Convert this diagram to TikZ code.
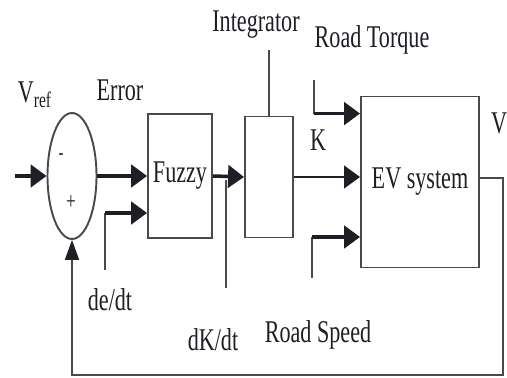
\documentclass[tikz,border=0pt]{standalone}
\usepackage{fontspec}
\setmainfont{Liberation Serif}[FakeStretch=0.7]
\usepackage{xcolor,tikz}
\usetikzlibrary{arrows.meta,positioning,shapes.geometric,calc}
\definecolor{ink}{HTML}{1E1E24}
\definecolor{edge}{HTML}{4A4A4A}

\begin{document}
\begin{tikzpicture}[
    x=0.02cm, y=-0.02cm,
    font=\fontsize{18}{20}\selectfont,
    text=ink,
    blk/.style={
        draw=edge,
        line width=1.1pt,
        align=center,
        inner sep=0pt
    },
    arr/.style={
        -{Triangle[length=0.32cm,width=0.45cm]},
        draw=ink,
        line width=2pt
    },
    sig/.style={
        draw=edge,
        line width=1.1pt
    },
    lbl/.style={
        inner sep=0pt
    }
]
\useasboundingbox (0,0) rectangle (507,378);

\node[blk,ellipse,minimum width=0.98cm,minimum height=2.52cm] (sum) at (72,176) {};
\node[blk,minimum width=1.28cm,minimum height=2.48cm] (fuzzy) at (180,176) {Fuzzy};
\node[blk,minimum width=0.96cm,minimum height=2.42cm] (integ) at (269,177) {};
\node[blk,minimum width=2.36cm,minimum height=3.42cm] (ev) at (420,182) {EV system};

\node[lbl] (vref) at (35,95) {V\textsubscript{ref}};
\node[lbl] (err) at (120,90) {Error};
\node[lbl,font=\fontsize{12}{12}\selectfont] (minus) at (61,157) {-};
\node[lbl,font=\fontsize{14}{14}\selectfont] (plus) at (71,203) {+};
\node[lbl] (dedtl) at (110,300) {de/dt};
\node[lbl] (dkdtl) at (213,340) {dK/dt};
\node[lbl] (intl) at (256,25) {Integrator};
\node[lbl] (rtl) at (372,40) {Road Torque};
\node[lbl] (rsl) at (318,335) {Road Speed};
\node[lbl] (kl) at (318,140) {K};
\node[lbl] (vl) at (499,123) {V};

\coordinate (in) at (15,176);
\coordinate (dedt) at (105,270);
\coordinate (dein) at ($(fuzzy.west)+(0,37)$);
\coordinate (dktop) at (226,180);
\coordinate (dkbot) at (226,288);
\coordinate (rt) at (314,80);
\coordinate (rtin) at ($(ev.north west)+(0,18)$);
\coordinate (rs) at (312,278);
\coordinate (rsin) at ($(ev.west)+(0,55)$);
\coordinate (out) at (503,178);
\coordinate (fb) at (72,375);

% forward path
\draw[arr] (in)--(sum.west);
\draw[arr] (sum.east)--(fuzzy.west);
\draw[arr] (fuzzy.east)--(integ.west);
\draw[arr,line width=1.6pt] (integ.east)--(ev.west |- integ.east);

% side inputs
\draw[sig] (dedt)--(dedt |- dein);
\draw[arr] (dedt |- dein)--(dein);
\draw[sig] (rt)--(rt |- rtin);
\draw[arr] (rt |- rtin)--(rtin);
\draw[sig] (rs)--(rs |- rsin);
\draw[arr] (rs |- rsin)--(rsin);

% label leads
\draw[sig] (dktop)--(dkbot);
\draw[sig] (integ.north)--(integ.north |- 0,50);

% feedback
\draw[sig,-{Triangle[length=0.4cm,width=0.28cm,color=ink]}]
    (ev.east |- out)--(out) |- (fb)--(sum.south);

\end{tikzpicture}
\end{document}
